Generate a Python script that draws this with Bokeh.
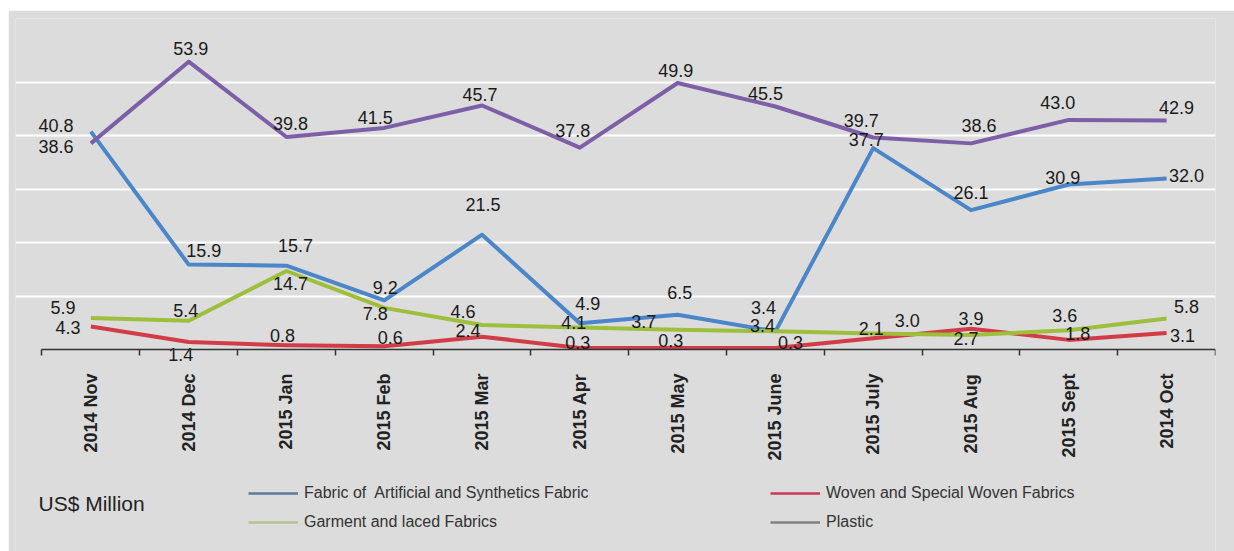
import math
from bokeh.plotting import figure
from bokeh.models import (Range1d, FixedTicker, Legend, LegendItem, Label,
                          ColumnDataSource, Spacer)
from bokeh.layouts import column, row
from bokeh.core.properties import value
from bokeh.embed import file_html
from bokeh.resources import INLINE

# ---------------- data ----------------
months = ["2014 Nov", "2014 Dec", "2015 Jan", "2015 Feb", "2015 Mar", "2015 Apr",
          "2015 May", "2015 June", "2015 July", "2015 Aug", "2015 Sept", "2014 Oct"]
fabric_artificial = [40.8, 15.9, 15.7, 9.2, 21.5, 4.9, 6.5, 3.4, 37.7, 26.1, 30.9, 32.0]
plastic = [38.6, 53.9, 39.8, 41.5, 45.7, 37.8, 49.9, 45.5, 39.7, 38.6, 43.0, 42.9]
garment_laced = [5.9, 5.4, 14.7, 7.8, 4.6, 4.1, 3.7, 3.4, 3.0, 2.7, 3.6, 5.8]
woven_special = [4.3, 1.4, 0.8, 0.6, 2.4, 0.3, 0.3, 0.3, 2.1, 3.9, 1.8, 3.1]

series_names = ["Fabric of  Artificial and Synthetics Fabric", "Garment and laced Fabrics",
                "Woven and Special Woven Fabrics", "Plastic"]
unit_label = "US$ Million"

# label offsets in screen pixels (dx right, dy down) -- layout only
off_fabric = [(-35, -6), (15, -14), (9, -20), (1, -13), (1, -30), (8, -20),
              (2, -22), (-12, -24), (-7, -9), (0, -18), (-6, -7), (20, -3)]
off_plastic = [(-35, 3), (2, -13), (4, -13), (-9, -10), (-2, -11), (-7, -17),
               (-2, -13), (-10, -13), (-12, -17), (8, -18), (-11, -17), (10, -13)]
off_garment = [(-28, -10), (-3, -10), (4, 12), (-9, 6), (-19, -13), (-6, -5),
               (-34, -8), (-13, -6), (34, -13), (-5, 3), (-4, -15), (20, -12)]
off_woven = [(-23, 1), (-8, 12), (-4, -10), (6, -9), (-14, -6), (-2, -5),
             (-7, -7), (15, -5), (-2, -10), (0, -10), (9, -6), (16, 3)]

BG = "#dcdcdc"
FONT = "Liberation Sans"

n = len(months)
xs = [i + 0.5 for i in range(n)]

# geometry (pixels): frame spans the whole grey panel below the top margin
FIG_W, FIG_H = 1226, 541
ML, MR, MT = 7, 19, 8
frame_w = FIG_W - ML - MR          # 1200
frame_h = FIG_H - MT               # 533
px_per_x = 97.8
x_start = -26.5 / px_per_x
px_per_y = 5.34
zero_from_top = 331                # axis position below frame top
y_end = zero_from_top / px_per_y
y_start = -(frame_h - zero_from_top) / px_per_y

p = figure(width=FIG_W, height=FIG_H, output_backend="svg", toolbar_location=None,
           x_range=Range1d(x_start, n), y_range=Range1d(y_start, y_end),
           y_axis_location=None,
           min_border_left=ML, min_border_right=MR, min_border_top=MT,
           min_border_bottom=0)
p.background_fill_color = BG
p.border_fill_color = BG
p.outline_line_color = None

# grid
p.xgrid.grid_line_color = None
p.ygrid.ticker = FixedTicker(ticks=[10, 20, 30, 40, 50])
p.ygrid.grid_line_color = "white"
p.ygrid.grid_line_width = 2

# x axis at y = 0: labels at category centres, ticks at category boundaries
ax = p.xaxis[0]
ax.fixed_location = 0
ax.bounds = (0, n)
ax.ticker = FixedTicker(ticks=xs, minor_ticks=list(range(n + 1)))
ax.major_label_overrides = {x: m for x, m in zip(xs, months)}
ax.major_label_orientation = math.pi / 2
ax.major_label_text_font = FONT
ax.major_label_text_font_style = "bold"
ax.major_label_text_font_size = "18px"
ax.major_label_text_color = "#222222"
ax.major_label_standoff = 18
ax.major_tick_out = 0
ax.major_tick_in = 0
ax.minor_tick_out = 6
ax.minor_tick_in = 0
ax.minor_tick_line_color = "#333333"
ax.minor_tick_line_width = 1.5
ax.axis_line_color = "#333333"
ax.axis_line_width = 1.5

# series: (values, line colour, key colour, label offsets)
line_specs = [
    (fabric_artificial, "#4a86c8", "#5b7a9e", off_fabric),
    (plastic, "#7d5fa8", "#808080", off_plastic),
    (woven_special, "#d23c46", "#c8385a", off_woven),
    (garment_laced, "#9dbf3c", "#b3c48c", off_garment),
]
for vals, col, _, _ in line_specs:
    p.line(xs, vals, line_color=col, line_width=4, line_join="round")

for vals, col, _, offs in line_specs:
    src = ColumnDataSource(dict(x=xs, y=vals, t=[f"{v:.1f}" for v in vals],
                                dx=[o[0] for o in offs], dy=[o[1] for o in offs]))
    p.text(x="x", y="y", text="t", x_offset="dx", y_offset="dy", source=src,
           text_font=value(FONT), text_font_size="18px", text_color="#1a1a1a",
           text_align="center", text_baseline="middle")

# hidden copies in the key's colours, used only for the legend swatches
key = {}
for (vals, _, kcol, _), name in zip(line_specs,
                                    [series_names[0], series_names[3],
                                     series_names[2], series_names[1]]):
    key[name] = p.line(xs, vals, line_color=kcol, line_width=2.5, visible=False)

def make_legend(names, x, y):
    lg = Legend(items=[LegendItem(label=nm, renderers=[key[nm]]) for nm in names],
                location=(x, y), orientation="vertical",
                background_fill_alpha=0, border_line_color=None,
                inactive_fill_alpha=0,
                padding=0, margin=0, spacing=9,
                glyph_width=50, glyph_height=20, label_height=20,
                label_standoff=6,
                label_text_font=FONT, label_text_font_size="16px",
                label_text_color="#333333")
    p.add_layout(lg, "center")

make_legend([series_names[0], series_names[1]], 233, 19)
make_legend([series_names[2], series_names[3]], 755, 19)

p.add_layout(Label(x=23, y=48, x_units="screen", y_units="screen",
                   text=unit_label, text_font=FONT, text_font_size="21px",
                   text_color="#222222", text_baseline="middle"))

layout = column(Spacer(width=1234, height=10),
                row(Spacer(width=8, height=FIG_H), p, spacing=0), spacing=0)

open("out.html", "w").write(file_html(layout, INLINE))
